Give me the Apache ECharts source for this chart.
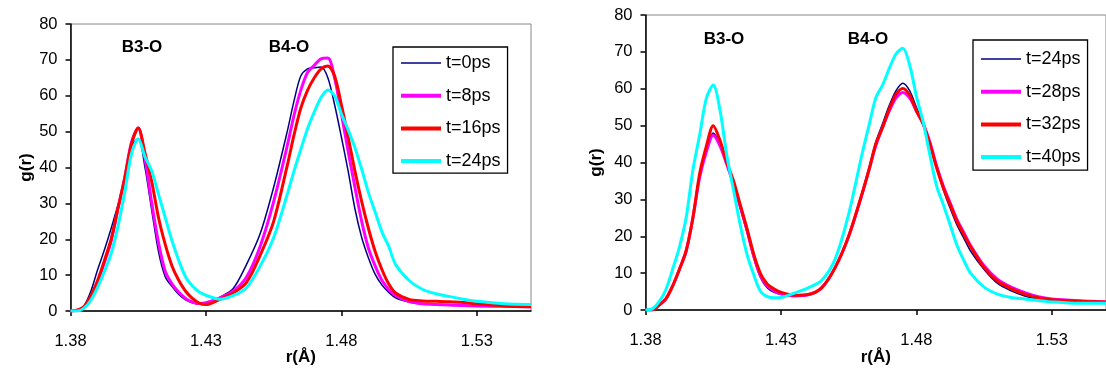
<!DOCTYPE html>
<html>
<head>
<meta charset="utf-8">
<script src="https://cdn.jsdelivr.net/npm/echarts@6/dist/echarts.min.js"></script>
<style>
html,body{margin:0;padding:0;background:#fff;}
#left{position:absolute;left:0;top:0;width:580px;height:371px;}
#right{position:absolute;left:580px;top:0;width:526px;height:371px;}
</style>
</head>
<body>
<div id="left"></div>
<div id="right"></div>
<script>
// distances r (Å)
const r = [1.38, 1.3825, 1.385, 1.3875, 1.39, 1.3925, 1.395, 1.3975, 1.40, 1.4025, 1.405, 1.4075, 1.41, 1.4125, 1.415, 1.4175, 1.42, 1.4225, 1.425, 1.4275, 1.43, 1.435, 1.44, 1.445, 1.45, 1.455, 1.46, 1.4625, 1.465, 1.4675, 1.47, 1.4725, 1.475, 1.4775, 1.48, 1.4825, 1.485, 1.4875, 1.49, 1.4925, 1.495, 1.4975, 1.50, 1.505, 1.51, 1.515, 1.52, 1.525, 1.53, 1.54, 1.55];

// left panel
const leftT0  = [0, 0.3, 1.5, 5.5, 11.5, 17, 23, 29.5, 36, 46, 48, 40, 28, 16.5, 9.5, 6.8, 4.6, 3.1, 2.3, 1.9, 2.2, 3.8, 6.2, 13, 21.5, 34.5, 50, 58.5, 65.5, 67.5, 67.8, 68, 65, 57.5, 48.5, 39, 28.5, 20.5, 14.8, 10.2, 7.2, 5.2, 3.7, 2.5, 2.0, 1.8, 1.6, 1.5, 1.4, 1.3, 1.3];
const leftT8  = [0, 0.2, 1.2, 4, 8, 13.5, 19.5, 28.5, 37, 47, 51, 42.5, 30, 19, 11, 7.5, 5.2, 3.5, 2.5, 2.1, 2.3, 3.6, 5.5, 9.5, 18, 30.5, 46, 54.5, 61.5, 66.5, 68.5, 70.3, 70.5, 65, 55, 44.5, 34.5, 25, 17.5, 12.5, 8.5, 6, 4.3, 2.6, 2.0, 1.8, 1.7, 1.5, 1.4, 1.3, 1.2];
const leftT16 = [0, 0.2, 1.2, 4.2, 8.5, 14, 20, 28.5, 37, 46.5, 51, 44, 36, 26, 18.5, 12.5, 8.5, 5.5, 3.5, 2.2, 1.8, 3.2, 5, 8, 15.5, 25, 40.5, 49, 56.5, 61.5, 65, 67.5, 68.3, 65.5, 57.5, 48.5, 39, 30.5, 23, 16.5, 11.5, 7.5, 5, 3.2, 2.8, 2.7, 2.6, 2.4, 2.0, 1.4, 1.2];
const leftT24 = [0, 0, 0.8, 3, 6.6, 11, 16, 23.5, 33, 43.8, 48, 43, 39, 32.5, 26, 19.5, 14, 9.5, 7, 5.3, 4.4, 3.3, 4.3, 6.5, 12.5, 20.5, 32.5, 39, 45, 50.8, 55.5, 59.5, 61.6, 60, 55, 50.5, 45.5, 39.5, 33, 27.5, 22, 18, 13, 8.5, 6, 4.8, 4, 3.3, 2.7, 2.0, 1.8];

// right panel
const rightT24 = [0, 0, 1.3, 3, 6.5, 11, 16, 25, 36.5, 43.5, 48, 45, 39.5, 34, 27.5, 21, 14, 8.7, 6, 4.8, 4.2, 3.8, 4.1, 6, 11.5, 20, 32, 38.5, 45.5, 50.5, 55.5, 59.5, 61.5, 59.5, 55, 50.5, 45, 38.5, 32.5, 27.5, 23, 19.5, 16, 11, 7.2, 5.2, 3.8, 3.0, 2.5, 2.0, 1.8];
const rightT28 = [0, 0, 1.3, 3, 6.5, 11, 16, 25, 36, 43, 47.4, 44.5, 39.5, 34, 28, 21.5, 14.5, 9.2, 6.5, 5.2, 4.4, 3.8, 4.1, 6, 11.5, 20, 31.5, 38, 44.5, 49.5, 54, 57.5, 59, 57.5, 54, 50.5, 45.5, 39, 33.5, 29, 24.5, 21, 17.5, 12, 8.3, 6.2, 4.7, 3.6, 3.0, 2.5, 2.2];
const rightT32 = [0, 0, 1.3, 3, 6.5, 11, 16, 25, 37, 44.5, 50, 46, 40, 35, 28.5, 22, 15, 9.8, 7, 5.7, 4.8, 4, 4.2, 6, 11.5, 20, 31.7, 38, 45, 49.5, 54.5, 58.5, 60.1, 58.3, 54, 50.5, 45, 38.5, 33, 28.5, 24, 20.5, 17.2, 11.5, 7.8, 5.8, 4.3, 3.3, 2.8, 2.4, 2.2];
const rightT40 = [0, 0.3, 2.2, 5.5, 11, 17, 25, 38, 47.5, 57.5, 61, 54.2, 42, 32.5, 23, 15, 9.5, 5, 3.6, 3.3, 3.4, 4.6, 6, 8, 13.8, 26, 42.5, 50, 57.5, 61, 65.5, 69.5, 71, 66.5, 58, 51, 42, 33.5, 28.5, 23, 17.5, 13.5, 10, 6.2, 4.3, 3.4, 3.0, 2.6, 2.2, 1.8, 1.8];

const xTicks = [1.38, 1.43, 1.48, 1.53];
const leftNames = ['t=0ps', 't=8ps', 't=16ps', 't=24ps'];
const rightNames = ['t=24ps', 't=28ps', 't=32ps', 't=40ps'];
const colors = ['#000080', '#FF00FF', '#FF0000', '#00FFFF'];
const widths = [1.5, 3, 3, 3];
const legendWidths = [1.5, 4, 4, 4];

const FONT = 'Liberation Sans, Arial, sans-serif';

function build(names, arrays, grid, legendPos, yNameGap, xNameGap, labels) {
  return {
    animation: false,
    textStyle: {fontFamily: FONT},
    grid: Object.assign({show: true, borderColor: '#888', borderWidth: 1}, grid),
    xAxis: {
      type: 'value', min: 1.38, max: 1.55,
      name: 'r(Å)', nameLocation: 'middle', nameGap: xNameGap, nameMoveOverlap: false,
      nameTextStyle: {fontFamily: FONT, fontWeight: 'bold', fontSize: 17, color: '#000'},
      axisLine: {show: true, onZero: false, lineStyle: {color: '#000', width: 1.5}},
      axisTick: {show: true, length: 5, customValues: xTicks, lineStyle: {color: '#000', width: 1.5}},
      axisLabel: {customValues: xTicks, margin: 22, fontSize: 16.5, color: '#000', fontFamily: FONT,
        formatter: v => v.toFixed(2)},
      splitLine: {show: false}
    },
    yAxis: {
      type: 'value', min: 0, max: 80, interval: 10,
      name: 'g(r)', nameLocation: 'middle', nameGap: yNameGap, nameMoveOverlap: false,
      nameTextStyle: {fontFamily: FONT, fontWeight: 'bold', fontSize: 17, color: '#000'},
      axisLine: {show: true, lineStyle: {color: '#000', width: 1.5}},
      axisTick: {show: true, length: 5, lineStyle: {color: '#000', width: 1.5}},
      axisLabel: {margin: 13, fontSize: 16.5, color: '#000', fontFamily: FONT},
      splitLine: {show: false}
    },
    legend: Object.assign({
      orient: 'vertical',
      data: names.map((n, k) => ({name: n, lineStyle: {width: legendWidths[k]}})),
      itemWidth: 40, itemHeight: 14, itemGap: 14.7,
      itemStyle: {opacity: 0},
      borderColor: '#000', borderWidth: 1.3,
      backgroundColor: '#fff',
      textStyle: {fontSize: 18, color: '#000', fontFamily: FONT},
      selectedMode: false
    }, legendPos),
    graphic: labels.map(l => ({
      type: 'text', x: l.x, y: l.y,
      style: {text: l.t, font: 'bold 17px ' + FONT, fill: '#000', align: 'center', verticalAlign: 'middle'}
    })),
    series: names.map((n, k) => ({
      name: n, type: 'line', symbol: 'none', smooth: 0.3,
      data: r.map((x, i) => [x, arrays[k][i]]),
      lineStyle: {color: colors[k], width: widths[k]},
      itemStyle: {color: colors[k]},
      emphasis: {disabled: true},
      z: 2 + k
    }))
  };
}

const left = echarts.init(document.getElementById('left'), null, {renderer: 'canvas'});
left.setOption(build(leftNames, [leftT0, leftT8, leftT16, leftT24],
  {left: 70.5, top: 24, width: 460.5, height: 287},
  {left: 393, top: 47, padding: [7, 7, 3, 6]}, 36, 38,
  [{t: 'B3-O', x: 142, y: 47.5}, {t: 'B4-O', x: 289, y: 47}]));

const right = echarts.init(document.getElementById('right'), null, {renderer: 'canvas'});
right.setOption(build(rightNames, [rightT24, rightT28, rightT32, rightT40],
  {left: 64, top: 15, width: 468, height: 295},
  {left: 393, top: 40, padding: [10, 7, 4, 6]}, 40.5, 39,
  [{t: 'B3-O', x: 144, y: 39}, {t: 'B4-O', x: 288, y: 39}]));
</script>
</body>
</html>
